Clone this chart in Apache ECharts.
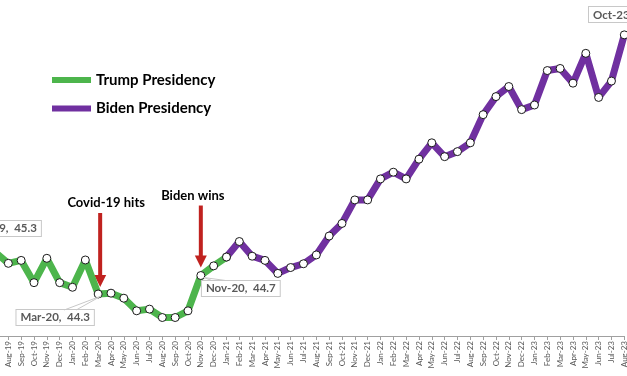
<!DOCTYPE html>
<html>
<head>
<meta charset="utf-8">
<script src="https://cdn.jsdelivr.net/npm/echarts@6/dist/echarts.min.js"></script>
<style>
  html, body { margin: 0; padding: 0; background: #fff; }
  #chart { width: 627px; height: 376px; }
</style>
</head>
<body>
<div id="chart"></div>
<script>
// months on the x axis (Jul-19 sits just off the left edge)
const months = [
  'Jul-19', 'Aug-19', 'Sep-19', 'Oct-19', 'Nov-19', 'Dec-19',
  'Jan-20', 'Feb-20', 'Mar-20', 'Apr-20', 'May-20', 'Jun-20',
  'Jul-20', 'Aug-20', 'Sep-20', 'Oct-20', 'Nov-20', 'Dec-20',
  'Jan-21', 'Feb-21', 'Mar-21', 'Apr-21', 'May-21', 'Jun-21',
  'Jul-21', 'Aug-21', 'Sep-21', 'Oct-21', 'Nov-21', 'Dec-21',
  'Jan-22', 'Feb-22', 'Mar-22', 'Apr-22', 'May-22', 'Jun-22',
  'Jul-22', 'Aug-22', 'Sep-22', 'Oct-22', 'Nov-22', 'Dec-22',
  'Jan-23', 'Feb-23', 'Mar-23', 'Apr-23', 'May-23', 'Jun-23',
  'Jul-23', 'Aug-23'
];
const values = [
  45.29, 45.03, 45.10, 44.57, 45.15, 44.57,
  44.46, 45.11, 44.30, 44.32, 44.20, 43.90,
  43.94, 43.74, 43.74, 43.90, 44.74, 44.97,
  45.18, 45.55, 45.20, 45.10, 44.79, 44.93,
  45.02, 45.23, 45.68, 45.98, 46.54, 46.54,
  47.04, 47.20, 47.04, 47.51, 47.90, 47.57,
  47.69, 47.90, 48.57, 49.00, 49.24, 48.69,
  48.80, 49.62, 49.67, 49.32, 50.03, 48.98,
  49.37, 50.47
];
// last month drawn in green, first month drawn in purple
const trumpLastMonth = 'Jan-21';
const bidenFirstMonth = 'Jan-21';
const calloutMonths = ['Jul-19', 'Mar-20', 'Nov-20'];
const events = [
  { month: 'Mar-20', text: 'Covid-19 hits' },
  { month: 'Nov-20', text: 'Biden wins' }
];
const offscreenCallout = 'Oct-23';

const green = '#4db54c';
const purple = '#7030a0';
const arrowRed = '#c0221f';
const boxGray = '#c8c8c8';

// label box offsets from their point (px), and callout wedge base (relative to point)
const calloutOffset = { 'Jul-19': [10, -24], 'Mar-20': [-43, 23.5], 'Nov-20': [40, 13] };
const wedge = { 'Mar-20': [[-34, 16], [-22, 16]], 'Nov-20': [[11, 5], [25, 5]] };
const eventOffset = { 'Mar-20': { ax: 2, tx: 8, ty: -91, top: -81, tip: -7 },
                      'Nov-20': { ax: 0, tx: -8, ty: -80, top: -70, tip: -8 } };

function part(from, to) {
  const a = months.indexOf(from), b = months.indexOf(to);
  return values.map(function (v, i) {
    if (i < a || i > b) return '-';
    if (calloutMonths.indexOf(months[i]) >= 0) return { value: v, label: { show: true } };
    return v;
  });
}

const chart = echarts.init(document.getElementById('chart'));
const symbolStyle = { color: '#fff', borderColor: '#1a1a1a', borderWidth: 1 };

chart.setOption({
  animation: false,
  grid: { left: -4.5, right: 2.7, top: 12.6, bottom: 40, outerBoundsMode: 'none' },
  legend: {
    orient: 'vertical', left: 47, top: 67, itemWidth: 39, itemHeight: 6, itemGap: 12.5,
    icon: 'rect',
    textStyle: { fontFamily: 'Lato', fontWeight: 'bold', fontSize: 15, color: '#000', lineHeight: 16 },
    data: [
      { name: 'Trump Presidency', itemStyle: { color: green, borderWidth: 0 } },
      { name: 'Biden Presidency', itemStyle: { color: purple, borderWidth: 0 } }
    ]
  },
  xAxis: {
    type: 'category', data: months, boundaryGap: false,
    axisLine: { lineStyle: { color: '#a0a0a0', width: 1 } },
    axisTick: { show: true, length: 4, lineStyle: { color: '#a0a0a0' } },
    axisLabel: { rotate: 90, interval: 0, margin: 5, fontSize: 8, fontFamily: 'Lato', color: '#595959' }
  },
  yAxis: { type: 'value', min: 43.3, max: 51, show: false, splitLine: { show: false } },
  series: [
    {
      name: 'Trump Presidency', type: 'line', data: part(months[0], trumpLastMonth),
      lineStyle: { color: green, width: 7 }, itemStyle: symbolStyle,
      symbol: 'circle', symbolSize: 8, showAllSymbol: true, z: 3,
      label: {
        show: false, position: 'inside',
        formatter: function (p) { return months[p.dataIndex] + ',  ' + p.value.toFixed(1); },
        fontFamily: 'Lato', fontWeight: 'bold', fontSize: 11.5, color: '#595959',
        backgroundColor: '#fff', borderColor: boxGray, borderWidth: 1, padding: [2, 4, 1, 4]
      },
      labelLayout: function (p) {
        const o = calloutOffset[months[p.dataIndex]];
        return o ? { dx: o[0], dy: o[1] } : {};
      }
    },
    {
      name: 'Biden Presidency', type: 'line', data: part(bidenFirstMonth, months[months.length - 1]),
      lineStyle: { color: purple, width: 7 }, itemStyle: symbolStyle,
      symbol: 'circle', symbolSize: 8, showAllSymbol: true, z: 2
    }
  ]
});

function pixelOf(month) {
  const i = months.indexOf(month);
  return chart.convertToPixel({ seriesIndex: 0 }, [i, values[i]]);
}

const graphics = [];
// callout wedges from label boxes to their points
Object.keys(wedge).forEach(function (m) {
  const p = pixelOf(m), w = wedge[m];
  graphics.push({
    type: 'polyline', silent: true, z: 100,
    shape: { points: [[p[0] + w[0][0], p[1] + w[0][1]], [p[0] + 3, p[1] + 2], [p[0] + w[1][0], p[1] + w[1][1]]] },
    style: { stroke: boxGray, lineWidth: 1, fill: null }
  });
});
// red event arrows, placed from the data points
events.forEach(function (e) {
  const pt = pixelOf(e.month);
  const o = eventOffset[e.month];
  const x = pt[0] + o.ax, y = pt[1];
  graphics.push({
    type: 'line', silent: true,
    shape: { x1: x, y1: y + o.top, x2: x, y2: y + o.tip - 10 },
    style: { stroke: arrowRed, lineWidth: 4 }
  });
  graphics.push({
    type: 'polygon', silent: true,
    shape: { points: [[x - 6, y + o.tip - 12], [x + 6, y + o.tip - 12], [x, y + o.tip]] },
    style: { fill: arrowRed }
  });
  graphics.push({
    type: 'text', silent: true, x: pt[0] + o.tx, y: y + o.ty,
    style: { text: e.text, font: 'bold 13px Lato', fill: '#000', align: 'center', verticalAlign: 'middle' }
  });
});
graphics.push({
  type: 'text', silent: true, x: 589, y: 7,
  style: {
    text: offscreenCallout, font: 'bold 11.5px Lato', fill: '#595959',
    backgroundColor: '#fff', borderColor: boxGray, borderWidth: 1, padding: [2, 40, 1, 4]
  }
});
chart.setOption({ graphic: graphics });
</script>
</body>
</html>
